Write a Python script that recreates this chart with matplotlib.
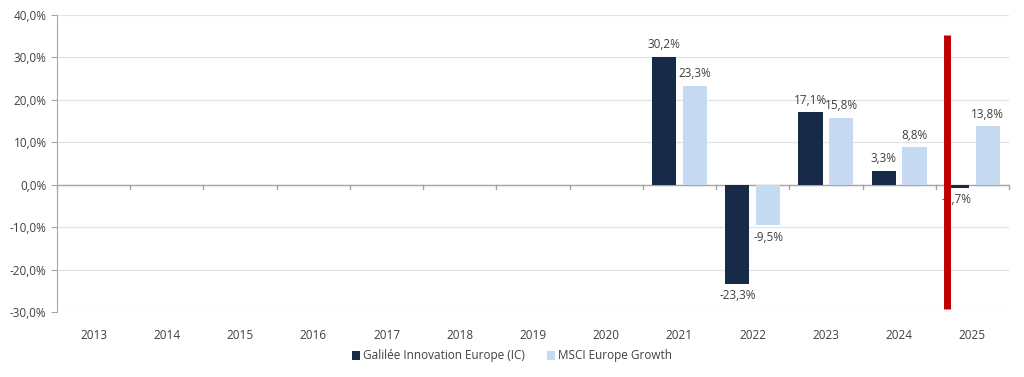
import matplotlib
matplotlib.use("Agg")
import matplotlib.pyplot as plt
import numpy as np
from matplotlib.ticker import FuncFormatter, FixedLocator

years = ["2013", "2014", "2015", "2016", "2017", "2018", "2019", "2020",
         "2021", "2022", "2023", "2024", "2025"]
fund = [None, None, None, None, None, None, None, None, 30.2, -23.3, 17.1, 3.3, -0.7]
bench = [None, None, None, None, None, None, None, None, 23.3, -9.5, 15.8, 8.8, 13.8]
series_names = ["Galilée Innovation Europe (IC)", "MSCI Europe Growth"]
yticks = [-30, -20, -10, 0, 10, 20, 30, 40]

plt.rcParams['font.family'] = ['Open Sans', 'DejaVu Sans']
dark = "#172B49"
light = "#C6DAF1"
txt = "#404040"

fig = plt.figure(figsize=(10.24, 3.77), dpi=100)
ax = fig.add_axes([57/1024, 1-312/377, (1009-57)/1024, (312-15)/377])

x = np.arange(len(years))
w = 0.33
off = 0.21
fv = [np.nan if v is None else v for v in fund]
bv = [np.nan if v is None else v for v in bench]
ax.bar(x - off, fv, w, color=dark, label=series_names[0], zorder=3)
ax.bar(x + off, bv, w, color=light, label=series_names[1], zorder=3)

def fmt(v):
    return f"{v:.1f}%".replace(".", ",")

for i in range(len(years)):
    for vals, o in ((fv, -off), (bv, off)):
        v = vals[i]
        if np.isnan(v):
            continue
        if v >= 0:
            ax.text(x[i] + o, v + 1.3, fmt(v), ha="center", va="bottom", fontsize=8.5, color=txt, zorder=5)
        else:
            ax.text(x[i] + o, v - 1.3, fmt(v), ha="center", va="top", fontsize=8.5, color=txt, zorder=5)

ax.set_xlim(-0.5, len(years) - 0.5)
ax.set_ylim(-30, 40)
ax.yaxis.set_major_locator(FixedLocator(yticks))
ax.yaxis.set_major_formatter(FuncFormatter(lambda v, p: f"{v:.1f}%".replace(".", ",")))
ax.grid(axis="y", color="#E3E3E3", linewidth=0.9, zorder=0)
for s in ["top", "right", "bottom"]:
    ax.spines[s].set_visible(False)
ax.spines["left"].set_color("#A6A6A6")
ax.tick_params(axis="y", colors="#A6A6A6", labelcolor=txt, labelsize=8.5, length=4)
ax.axhline(0, color="#A6A6A6", linewidth=1, zorder=2)
ax.set_xticks(x)
ax.set_xticklabels(years)
ax.tick_params(axis="x", length=0, labelsize=8.5, labelcolor=txt, pad=12)
for b in np.arange(-0.5, len(years), 1.0):
    ax.plot([b, b], [0, -1.0], color="#A6A6A6", linewidth=1, zorder=2, clip_on=False)

# red separator line
ax.plot([11.66, 11.66], [35.3, -29.4], color="#C00000", linewidth=5, zorder=6, solid_capstyle="butt")

leg = fig.legend(loc="center", bbox_to_anchor=(0.5, 1-356/377), ncol=2, frameon=False,
                 fontsize=8.5, handlelength=0.7, handleheight=0.7, columnspacing=1.8, handletextpad=0.3)
for t in leg.get_texts():
    t.set_color(txt)

fig.savefig("out.png", dpi=100)
